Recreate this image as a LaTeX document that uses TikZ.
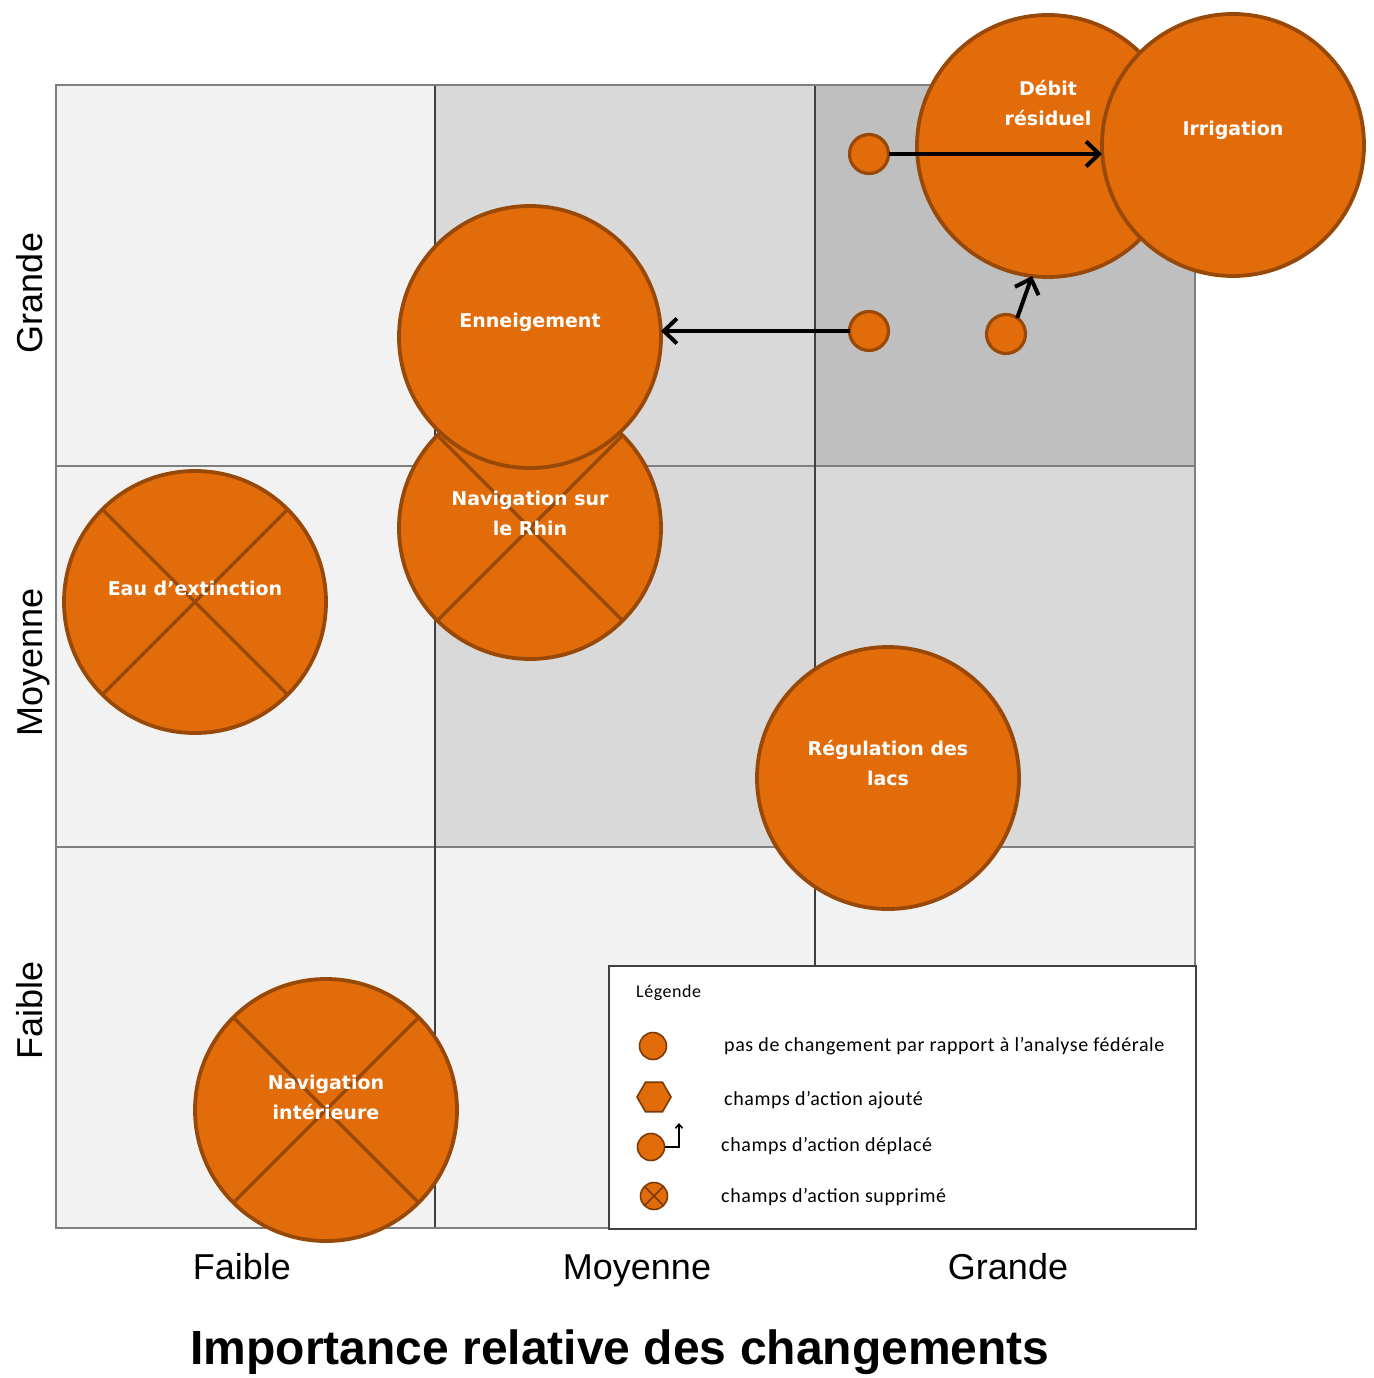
\documentclass[tikz,border=0pt]{standalone}
\usepackage{fontspec}
\setmainfont{Liberation Sans}
\newfontfamily\circfont{DejaVu Sans}
\newfontfamily\legfont{Carlito}[LetterSpace=3]
\usetikzlibrary{arrows.meta,shapes.geometric}

\definecolor{orangefill}{HTML}{E36C0A}
\definecolor{orangeline}{HTML}{984807}
\definecolor{cellA}{HTML}{F2F2F2}
\definecolor{cellB}{HTML}{D9D9D9}
\definecolor{cellC}{HTML}{BFBFBF}
\definecolor{gridouter}{HTML}{7F7F7F}
\definecolor{gridinner}{HTML}{404040}

\begin{document}
\begin{tikzpicture}[x=1pt,y=-1pt,
  bubble/.style={circle, fill=orangefill, draw=orangeline, line width=3.8pt,
    minimum size=262pt, inner sep=0pt, outer sep=0pt},
  dot/.style={circle, fill=orangefill, draw=orangeline, line width=3.2pt,
    minimum size=39pt, inner sep=0pt, outer sep=0pt},
  legdot/.style={circle, fill=orangefill, draw=orangeline!80!black, line width=1.6pt,
    minimum size=27pt, inner sep=0pt, outer sep=0pt},
  crossline/.style={draw=orangeline, line width=3.5pt},
  bubtext/.style={text=white, font=\circfont\bfseries\fontsize{19}{30}\selectfont,
    align=center, inner sep=0pt},
  move/.style={-{Straight Barb[length=13pt,width=25pt]}, line width=4pt, black},
  axislabel/.style={font=\fontsize{36}{40}\selectfont, anchor=base, inner sep=0pt},
  legtext/.style={font=\legfont\fontsize{20}{22}\selectfont, anchor=west, inner sep=0pt},
]
\useasboundingbox (0,0) rectangle (1373,1378);
\fill[white] (0,0) rectangle (1373,1378);

% background cells of the 3x3 matrix
\fill[cellA] (56,85) rectangle (435,1228);
\fill[cellB] (435,85) rectangle (815,847);
\fill[cellC] (815,85) rectangle (1195,466);
\fill[cellB] (815,466) rectangle (1195,847);
\fill[cellA] (435,847) rectangle (1195,1228);

% grid lines
\draw[gridouter, line width=2pt] (56,466) -- (1195,466) (56,847) -- (1195,847);
\draw[gridinner, line width=2pt] (435,85) -- (435,1228) (815,85) -- (815,1228);
\draw[gridouter, line width=2pt] (56,85) rectangle (1195,1228);

% legend frame
\node[draw=gridinner, fill=white, line width=1.5pt, minimum width=587pt,
  minimum height=263pt, anchor=north west, inner sep=0pt] (legend) at (608,965) {};

% axis labels
\node[axislabel] (xlow) at (242,1279) {Faible};
\node[axislabel] (xmid) at (637,1279) {Moyenne};
\node[axislabel] (xhigh) at (1008,1279) {Grande};
\node[axislabel, rotate=90] (yhigh) at (42,293) {Grande};
\node[axislabel, rotate=90] (ymid) at (42,662) {Moyenne};
\node[axislabel, rotate=90] (ylow) at (42,1010) {Faible};
\node[font=\bfseries\fontsize{48}{52}\selectfont, anchor=base, inner sep=0pt]
  (title) at (620,1364) {Importance relative des changements};

% fields of action
\node[bubble] (eau) at (195,602) {};
\draw[crossline] (eau.45) -- (eau.225) (eau.135) -- (eau.315);
\node[bubble] (rhin) at (530,528) {};
\draw[crossline] (rhin.45) -- (rhin.225) (rhin.135) -- (rhin.315);
\node[bubble] (enn) at (530,337) {};
\node[bubble] (lacs) at (888,778) {};
\node[bubble] (navint) at (326,1110) {};
\draw[crossline] (navint.45) -- (navint.225) (navint.135) -- (navint.315);
\node[bubble] (deb) at (1048,146) {};
\node[bubble] (irr) at (1233,145) {};

\node[bubtext] (t-eau) at (195,588) {Eau d’extinction};
\node[bubtext] (t-rhin) at (530,513) {Navigation sur\\le Rhin};
\node[bubtext] (t-enn) at (530,322) {Enneigement};
\node[bubtext] (t-lacs) at (888,763) {Régulation des\\lacs};
\node[bubtext] (t-navint) at (326,1097) {Navigation\\intérieure};
\node[bubtext] (t-deb) at (1048,103) {Débit\\résiduel};
\node[bubtext] (t-irr) at (1233,130) {Irrigation};

% former positions and moves
\node[dot] (d1) at (869,154) {};
\node[dot] (d2) at (869,331) {};
\node[dot] (d3) at (1006,334) {};
\draw[move] (d1.east) -- (d1 -| irr.west);
\draw[move] (d2.west) -- (d2 -| enn.east);
\draw[move] (d3.55) -- (deb.263);

% legend content
\node[font=\legfont\fontsize{18}{20}\selectfont, anchor=west, inner sep=0pt]
  (legtitle) at (636,993) {Légende};
\node[legdot] (lg1) at (653,1046) {};
\node[regular polygon, regular polygon sides=6, fill=orangefill,
  draw=orangeline!80!black, line width=1.6pt, minimum size=34pt, inner sep=0pt]
  (lg2) at (654,1097) {};
\node[legdot] (lg3) at (651,1147) {};
\coordinate (lg3tip) at (679,1123);
\draw[black, line width=1.6pt, -{Straight Barb[length=4pt,width=7pt]}]
  (lg3.east) -| (lg3tip);
\node[legdot] (lg4) at (654,1196) {};
\draw[draw=orangeline!80!black, line width=1.6pt]
  (lg4.45) -- (lg4.225) (lg4.135) -- (lg4.315);

\node[legtext] (lt1) at (724,1046) {pas de changement par rapport à l’analyse fédérale};
\node[legtext] (lt2) at (724,1100) {champs d’action ajouté};
\node[legtext] (lt3) at (721,1146) {champs d’action déplacé};
\node[legtext] (lt4) at (721,1197) {champs d’action supprimé};
\end{tikzpicture}
\end{document}
